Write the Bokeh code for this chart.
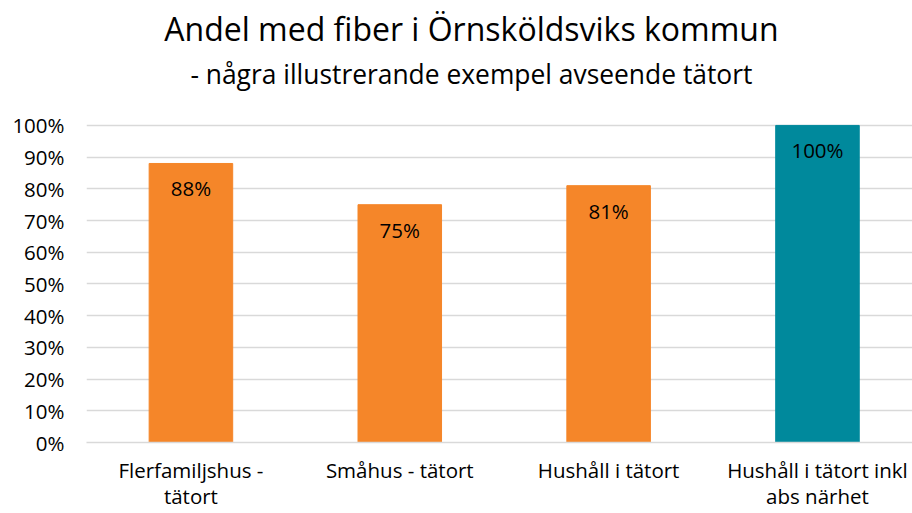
from bokeh.plotting import figure
from bokeh.models import ColumnDataSource, FixedTicker, NumeralTickFormatter, Range1d, Label
from bokeh.core.properties import value
from bokeh.embed import file_html
from bokeh.resources import INLINE

title_text = "Andel med fiber i Örnsköldsviks kommun"
subtitle_text = "- några illustrerande exempel avseende tätort"
categories = ["Flerfamiljshus -\ntätort", "Småhus - tätort", "Hushåll i tätort", "Hushåll i tätort inkl\nabs närhet"]
values = [0.88, 0.75, 0.81, 1.00]
y_ticks = [0.0, 0.1, 0.2, 0.3, 0.4, 0.5, 0.6, 0.7, 0.8, 0.9, 1.0]

ORANGE = "#F58629"
TEAL = "#00899C"
FONT = "Open Sans"

xs = list(range(len(categories)))
colors = [ORANGE, ORANGE, ORANGE, TEAL]
labels = [f"{round(v*100)}%" for v in values]
src = ColumnDataSource(dict(x=xs, top=values, color=colors, label=labels))

p = figure(width=912, height=513, output_backend="svg", toolbar_location=None,
           x_range=Range1d(-0.5, 3.455), y_range=Range1d(0, 1.394),
           min_border_left=86, min_border_right=0, min_border_top=0, min_border_bottom=71)
p.outline_line_color = None
p.background_fill_color = "white"
p.border_fill_color = "white"

p.vbar(x="x", top="top", bottom=0, width=0.40, color="color", source=src)
p.text(x="x", y="top", text="label", source=src, text_align="center", text_baseline="top",
       y_offset=11, text_font=value(FONT), text_font_size="20.5px", text_color="#000000")

p.xgrid.grid_line_color = None
p.ygrid.grid_line_color = "#D9D9D9"
p.ygrid.grid_line_width = 1.5
p.ygrid.ticker = FixedTicker(ticks=y_ticks)

p.yaxis.ticker = FixedTicker(ticks=y_ticks)
p.yaxis.formatter = NumeralTickFormatter(format="0%")
p.yaxis.axis_line_color = None
p.yaxis.major_tick_line_color = None
p.yaxis.minor_tick_line_color = None
p.yaxis.major_tick_out = 0
p.yaxis.major_tick_in = 0
p.yaxis.major_label_text_font = FONT
p.yaxis.major_label_text_font_size = "20.5px"
p.yaxis.major_label_text_color = "#000000"
p.yaxis.major_label_standoff = 22

p.xaxis.ticker = FixedTicker(ticks=xs)
p.xaxis.major_label_overrides = {i: c for i, c in zip(xs, categories)}
p.xaxis.axis_line_color = "#D9D9D9"
p.xaxis.axis_line_width = 1.5
p.xaxis.major_tick_line_color = None
p.xaxis.minor_tick_line_color = None
p.xaxis.major_tick_out = 0
p.xaxis.major_tick_in = 0
p.xaxis.axis_label_standoff = 0
p.xaxis.major_label_text_font = FONT
p.xaxis.major_label_text_font_size = "20.5px"
p.xaxis.major_label_text_color = "#000000"
p.xaxis.major_label_text_line_height = 0.96
p.xaxis.major_label_standoff = 13

p.add_layout(Label(x=1.343, y=1.307, text=title_text, text_align="center", text_baseline="alphabetic",
                   text_font=FONT, text_font_size="32px", text_color="#000000"))
p.add_layout(Label(x=1.343, y=1.163, text=subtitle_text, text_align="center", text_baseline="alphabetic",
                   text_font=FONT, text_font_size="26.4px", text_color="#000000"))

open("out.html", "w").write(file_html(p, INLINE))
